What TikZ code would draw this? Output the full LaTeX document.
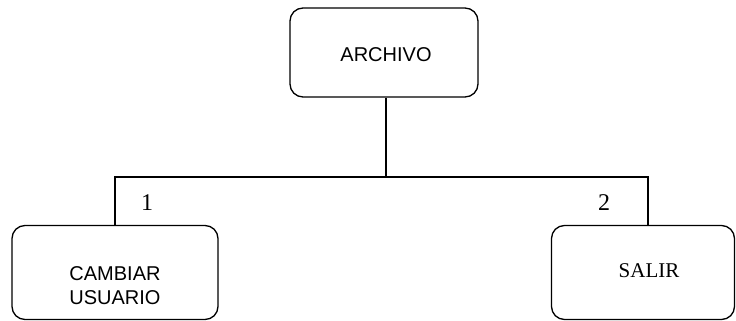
\documentclass[tikz,border=0pt]{standalone}
\usepackage{fontspec}
\setmainfont{Liberation Serif}
\setsansfont{Liberation Sans}
\begin{document}
\begin{tikzpicture}[x=1pt,y=-1pt,
  box/.style={draw, line width=1.3pt, rounded corners=13pt, inner sep=0pt},
  conn/.style={line width=2pt},
  sanslbl/.style={font=\sffamily\fontsize{20}{24}\selectfont, align=center},
  seriflbl/.style={font=\fontsize{21}{24}\selectfont},
  numlbl/.style={font=\fontsize{24}{28}\selectfont}]
\useasboundingbox (0,0) rectangle (736,321);
\node[box, minimum width=188pt, minimum height=89pt] (top) at (384,52.5) {};
\node[sanslbl] (toptxt) at (386,55) {ARCHIVO};
\node[box, minimum width=206pt, minimum height=94pt] (left) at (115,272.5) {};
\node[sanslbl] (lefttxt) at (115,285.5) {CAMBIAR\\USUARIO};
\node[box, minimum width=183pt, minimum height=94pt] (right) at (643,272.5) {};
\node[seriflbl] (righttxt) at (649,271) {SALIR};
\coordinate (j) at (386,177);
\coordinate (lj) at (115,177);
\coordinate (rj) at (648,177);
\draw[conn] (j |- top.south) -- (j);
\draw[conn] (left.north) -- (lj) -- (rj) -- (rj |- right.north);
\node[numlbl] (n1) at (147,203) {1};
\node[numlbl] (n2) at (604,203) {2};
\end{tikzpicture}
\end{document}
